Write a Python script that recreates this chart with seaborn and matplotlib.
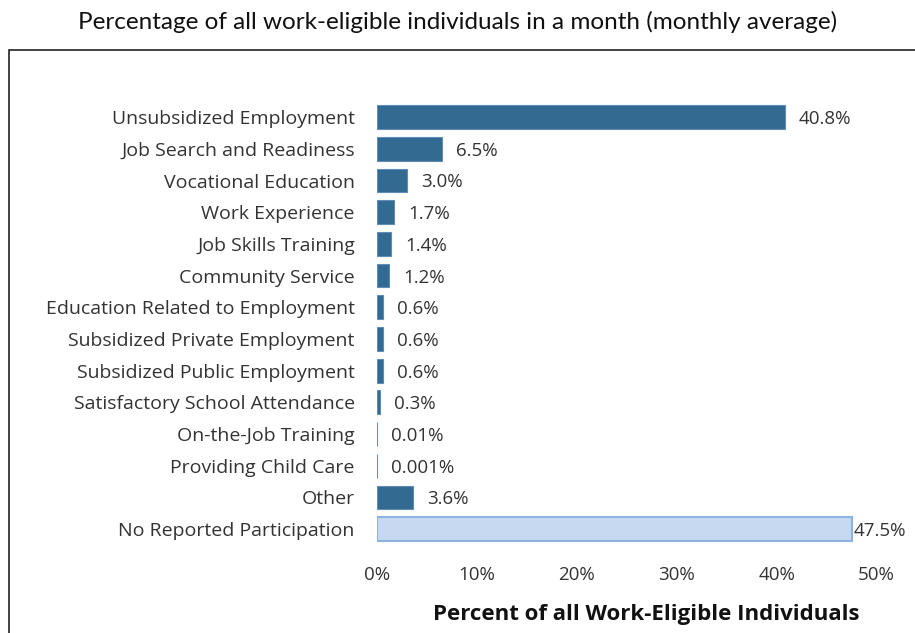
import matplotlib

matplotlib.use("Agg")
import matplotlib.pyplot as plt
import pandas as pd
import seaborn as sns
from matplotlib.patches import Rectangle

categories = [
    "Unsubsidized Employment",
    "Job Search and Readiness",
    "Vocational Education",
    "Work Experience",
    "Job Skills Training",
    "Community Service",
    "Education Related to Employment",
    "Subsidized Private Employment",
    "Subsidized Public Employment",
    "Satisfactory School Attendance",
    "On-the-Job Training",
    "Providing Child Care",
    "Other",
    "No Reported Participation",
]
percents = [40.8, 6.5, 3.0, 1.7, 1.4, 1.2, 0.6, 0.6, 0.6, 0.3, 0.01, 0.001, 3.6, 47.5]
value_labels = ["40.8%", "6.5%", "3.0%", "1.7%", "1.4%", "1.2%", "0.6%", "0.6%",
                "0.6%", "0.3%", "0.01%", "0.001%", "3.6%", "47.5%"]
x_ticks = [0, 10, 20, 30, 40, 50]

DARK = "#336A92"
LIGHT = "#C6D9F0"

sns.set_theme(style="white")
plt.rcParams["font.family"] = ["Open Sans", "DejaVu Sans"]

df = pd.DataFrame({"category": categories, "pct": percents})
colors = [DARK] * (len(categories) - 1) + [LIGHT]

fig = plt.figure(figsize=(9.15, 6.33), dpi=100)
ax = fig.add_axes([0.412, 0.134, 0.546, 0.711])

sns.barplot(data=df, x="pct", y="category", hue="category", palette=colors,
            legend=False, width=0.75, saturation=1, ax=ax,
            edgecolor="#5F8DB5", linewidth=0.8)
ax.patches[-1].set_edgecolor("#8DB3E0")
ax.patches[-1].set_linewidth(1.5)

for i, (v, lab) in enumerate(zip(percents, value_labels)):
    off = 0.25 if i == len(percents) - 1 else 1.4
    ax.text(v + off, i + 0.06, lab, va="center", ha="left", fontsize=13.5, color="#333333")

ax.set_xlim(0, 50)
ax.set_ylim(13.6, -0.6)
ax.set_xticks(x_ticks)
ax.set_xticklabels([f"{t}%" for t in x_ticks])
ax.tick_params(axis="x", length=0, pad=13, labelsize=13.5, labelcolor="#333333")
ax.tick_params(axis="y", length=0, pad=16, labelsize=14, labelcolor="#333333")
ax.set_ylabel("")
ax.set_xlabel("Percent of all Work-Eligible Individuals", fontsize=16,
              fontweight="bold", color="#111111")
ax.xaxis.set_label_coords(0.538, -0.125)
for s in ax.spines.values():
    s.set_visible(False)

fig.add_artist(Rectangle((9 / 915, -0.05), 1.2, 1 - 50 / 633 + 0.05,
                         transform=fig.transFigure, fill=False,
                         edgecolor="#222222", linewidth=1.2))
fig.text(0.5, 1 - 22 / 633, "Percentage of all work-eligible individuals in a month (monthly average)",
         ha="center", va="center", fontsize=17.5, family=["Lato", "DejaVu Sans"], color="#111111")

fig.savefig("out.png", dpi=100)
